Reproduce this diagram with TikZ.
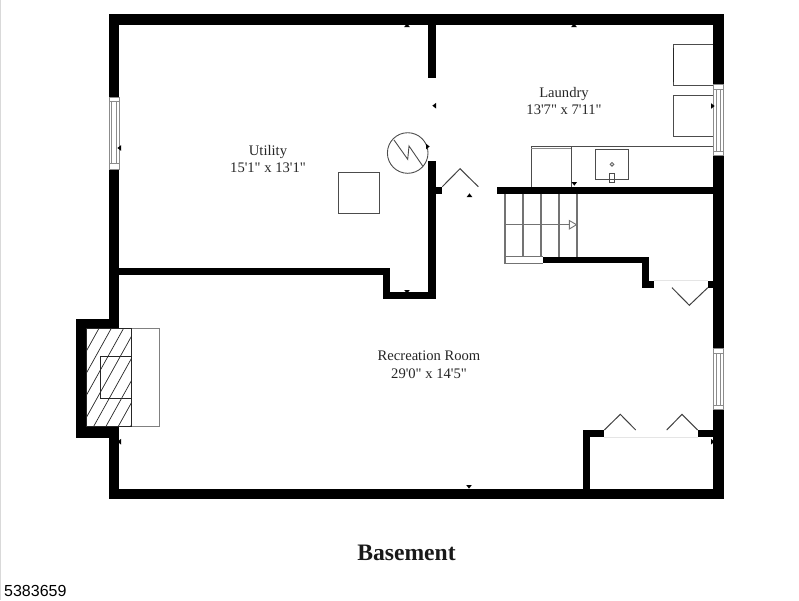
\documentclass[tikz,border=0pt]{standalone}
\usepackage{fontspec}
\newfontfamily\roomfont{Liberation Serif}
\newfontfamily\idfont{Liberation Sans}
\tikzset{
  wall/.style={fill=black},
  fixture/.style={draw=black!70,line width=0.9pt},
  swing/.style={draw=black!75,line width=1pt},
  stairline/.style={draw=black!55,line width=1.1pt},
  frame/.style={draw=black!45,fill=white,line width=0.8pt},
  roomlabel/.style={font=\roomfont\fontsize{14.6}{17.5}\selectfont,text=black!85,align=center,inner sep=0pt},
}
\begin{document}
\begin{tikzpicture}[x=1pt,y=-1pt]
\useasboundingbox (0,0) rectangle (799,600);
\draw[black!15,line width=1pt] (0.5,0) -- (0.5,600);
% Outer walls
\fill[wall] (109,14) rectangle (723.5,24.5);
\fill[wall] (109,14) rectangle (119,97);
\fill[wall] (109,169) rectangle (119,318.5);
\fill[wall] (109,437) rectangle (119,499);
\fill[wall] (109,488.5) rectangle (723.5,499);
\fill[wall] (713,14) rectangle (723.5,84.5);
\fill[wall] (713,155.5) rectangle (723.5,348.5);
\fill[wall] (713,409) rectangle (723.5,499);
% Fireplace walls
\fill[wall] (75.5,318.5) rectangle (119,328.5);
\fill[wall] (75.5,318.5) rectangle (86,437.5);
\fill[wall] (75.5,426.7) rectangle (119,437.5);
% Inner walls
\fill[wall] (119,267.5) rectangle (390,275);
\fill[wall] (382.7,267.5) rectangle (390,299.3);
\fill[wall] (382.7,292) rectangle (435.5,299.3);
\fill[wall] (428,14) rectangle (435.5,77.7);
\fill[wall] (428,160.7) rectangle (435.5,299.3);
\fill[wall] (428,186.7) rectangle (442.3,193.5);
\fill[wall] (496.7,186.5) rectangle (713,193.5);
\fill[wall] (543.3,256.7) rectangle (649,263.3);
\fill[wall] (641.7,256.7) rectangle (649,288);
\fill[wall] (641.7,280.7) rectangle (653.7,288);
\fill[wall] (707.7,280.7) rectangle (713,288);
\fill[wall] (582.7,430) rectangle (604.3,437.3);
\fill[wall] (582.7,430) rectangle (590,499);
\fill[wall] (697.7,430) rectangle (713,437.3);
% Windows
\draw[frame] (109,97) rectangle (119,169);
\draw[frame] (109,101.7) rectangle (119,163.3);
\draw[black!45,line width=0.7pt] (111.5,101.7) -- (111.5,163.3) (116,101.7) -- (116,163.3);
\draw[frame] (713.3,84.5) rectangle (723.5,155.5);
\draw[frame] (713.3,89) rectangle (723.5,151);
\draw[black!45,line width=0.7pt] (716,89) -- (716,151) (720.5,89) -- (720.5,151);
\draw[frame] (713.3,348.5) rectangle (723.5,409);
\draw[frame] (713.3,353.3) rectangle (723.5,405);
\draw[black!45,line width=0.7pt] (716,353.3) -- (716,405) (720.5,353.3) -- (720.5,405);
% Fireplace
\draw[black!50,line width=0.8pt] (131.7,328.3) rectangle (159.3,426.7);
\begin{scope}
\clip (86,328.3) rectangle (131.7,426.7);
\foreach \hx in {0,...,7}
  \draw[black!85,line width=0.7pt] ({44.3+12.3*\hx},426.7) -- ({99+12.3*\hx},328.3);
\end{scope}
\draw[black!85,line width=0.8pt] (86,328.3) rectangle (131.7,426.7);
\draw[black!85,line width=0.9pt] (100.7,356) rectangle (131.7,398.7);
% Furnace and tank
\draw[fixture] (407.7,153) circle (20.3);
\draw[fixture] (394,140) -- (407.7,159.3) -- (409,146) -- (422.7,166);
\draw[fixture] (338,172.5) rectangle (379,213);
% Laundry machines and counter
\draw[fixture] (713,44.3) -- (673,44.3) -- (673,85) -- (713,85);
\draw[black!85,line width=1pt] (673.3,48) -- (673.3,82);
\draw[fixture] (713,95.7) -- (673,95.7) -- (673,136.3) -- (713,136.3);
\draw[fixture] (531.3,187) -- (531.3,146) -- (713,146);
\draw[black!45,line width=0.6pt] (531.3,148.7) -- (571.7,148.7);
\draw[fixture] (571.7,146) -- (571.7,187);
\draw[fixture] (595,149.3) rectangle (628.7,179.7);
\draw[black!60,line width=1pt] (612,164.3) circle (1.8);
\draw[fixture] (609.7,173.3) rectangle (614,182.7);
% Stairs
\foreach \sx in {523,541,559,577}
  \draw[stairline] (\sx,193.5) -- (\sx,256.7);
\draw[stairline] (505,193.5) -- (505,263.3) -- (543.3,263.3);
\draw[stairline] (505,256.7) -- (543.3,256.7);
\draw[black!55,line width=0.9pt] (505,224.7) -- (569.3,224.7);
\draw[black!55,line width=0.9pt] (569.3,220.5) -- (576.5,224.7) -- (569.3,229) -- cycle;
% Door swings
\draw[swing] (442.3,186.7) -- (460,168.7) -- (478.3,186.7);
\draw[swing] (672,287.7) -- (689.3,305.3) -- (707.7,287.7);
\draw[swing] (604.3,430) -- (620.3,414.3) -- (635.7,430);
\draw[swing] (666.7,430) -- (682,414.3) -- (697.7,430);
\draw[black!10,line width=0.6pt] (653.7,280.7) -- (707.7,280.7);
\draw[black!10,line width=0.6pt] (604.3,437) -- (697.7,437);
% Small markers on the walls
\foreach \mx/\my/\mrot in {407/27/0,574/27/0,469.5/197/0,407/290/180,574.3/182/180,469/485/180,
    121/148/90,436/105.7/90,121/441.7/90,426/146.5/270,711/106/270,711/441.7/270}
  \fill[black,shift={(\mx,\my)},rotate=\mrot] (-2.8,0) -- (2.8,0) -- (0,-3.6) -- cycle;
% Room labels
\node[roomlabel] (utility) at (268,159) {Utility\\15'1" x 13'1"};
\node[roomlabel] (laundry) at (564,101) {Laundry\\13'7" x 7'11"};
\node[roomlabel] (recroom) at (429,364.5) {Recreation Room\\29'0" x 14'5"};
\node[inner sep=0pt,font=\roomfont\bfseries\fontsize{23.6}{26}\selectfont,text=black!90] (basement) at (406.5,553) {Basement};
\node[anchor=west,inner sep=0pt,font=\idfont\fontsize{16}{18}\selectfont] (listing) at (4,590.5) {5383659};
\end{tikzpicture}
\end{document}
